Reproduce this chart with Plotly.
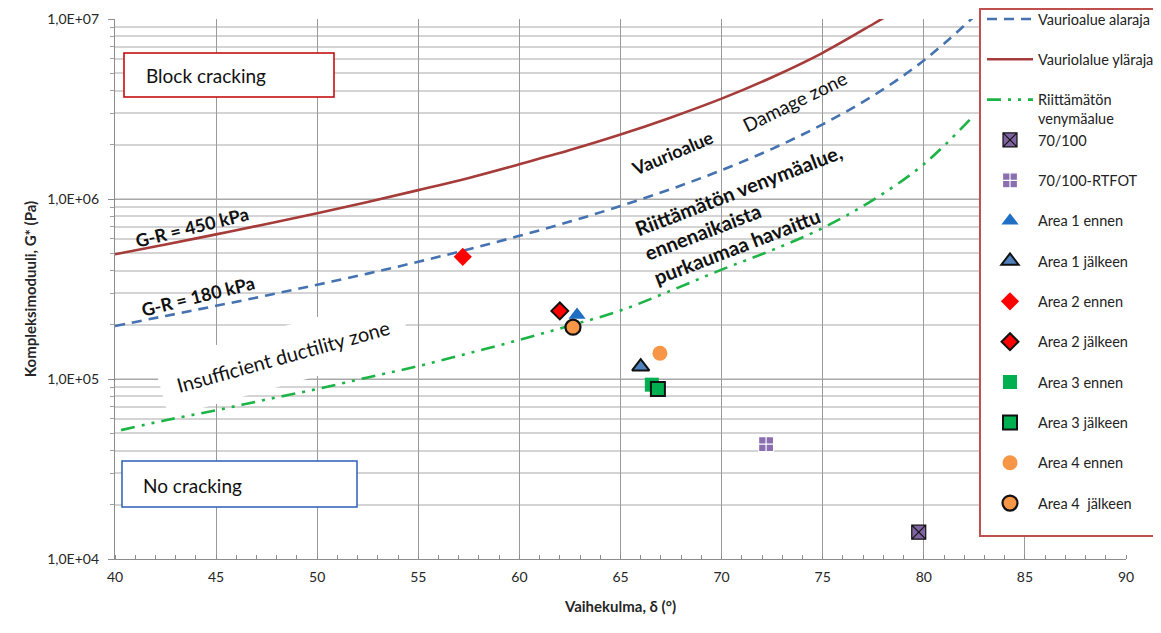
import plotly.graph_objects as go

# ---------------- data ----------------
# boundary curves (phase angle in degrees, complex modulus in Pa)
curve_delta = [40, 42.5, 45, 47.5, 50, 52.5, 55, 57.5, 60, 62.5, 65, 67.5, 70, 72.5, 75, 77.5, 78.3]
upper_g = [493e3, 559e3, 636e3, 727e3, 834e3, 963e3, 1.12e6, 1.31e6, 1.56e6, 1.87e6,
           2.28e6, 2.84e6, 3.61e6, 4.75e6, 6.49e6, 9.38e6, 10.6e6]

lower_delta = [40, 42.5, 45, 47.5, 50, 52.5, 55, 57.5, 60, 62.5, 65, 67.5, 70, 72.5, 75, 77.5, 80, 82.6]
lower_g = [197e3, 224e3, 255e3, 291e3, 334e3, 385e3, 448e3, 526e3, 624e3, 749e3,
           914e3, 1.136e6, 1.446e6, 1.90e6, 2.60e6, 3.75e6, 5.88e6, 10.6e6]

duct_delta = [40.3, 42.5, 45, 47.5, 50, 52.5, 55, 57.5, 60, 62.5, 65, 67.5, 70, 72.5, 75, 77.5, 80, 82.4]
duct_g = [52e3, 59e3, 67e3, 77e3, 88e3, 102e3, 118e3, 139e3, 165e3, 198e3,
          240e3, 310e3, 405e3, 520e3, 690e3, 990e3, 1.56e6, 2.85e6]

# measured points
sample_names = ["70/100", "70/100-RTFOT", "Area 1 ennen", "Area 1 jälkeen",
                "Area 2 ennen", "Area 2 jälkeen", "Area 3 ennen", "Area 3 jälkeen",
                "Area 4 ennen", "Area 4  jälkeen"]
sample_delta = [79.75, 72.2, 62.85, 66.0, 57.2, 62.0, 66.55, 66.85, 66.95, 62.65]
sample_g = [14.1e3, 43.5e3, 227e3, 117e3, 477e3, 239e3, 93e3, 88e3, 139e3, 194e3]

x_ticks = [40, 45, 50, 55, 60, 65, 70, 75, 80, 85, 90]
y_tickvals = [1e4, 1e5, 1e6, 1e7]
y_ticktext = ["1,0E+04", "1,0E+05", "1,0E+06", "1,0E+07"]

# ---------------- styles ----------------
sample_styles = [
    dict(symbol="square-x", size=14, color="#8064a2", line=dict(color="#111111", width=1.2)),
    dict(symbol="square-cross", size=15, color="#8a6fb0", line=dict(color="#ffffff", width=1.2)),
    dict(symbol="triangle-up", size=15, color="#1f70c4", line=dict(color="#1f70c4", width=0)),
    dict(symbol="triangle-up", size=15, color="#4f81bd", line=dict(color="#111111", width=2)),
    dict(symbol="diamond", size=14, color="#ff0000", line=dict(color="#ff0000", width=0)),
    dict(symbol="diamond", size=13, color="#ff0000", line=dict(color="#111111", width=2)),
    dict(symbol="square", size=14, color="#00b050", line=dict(color="#00b050", width=0)),
    dict(symbol="square", size=14, color="#00b050", line=dict(color="#111111", width=2)),
    dict(symbol="circle", size=15, color="#f79646", line=dict(color="#f79646", width=0)),
    dict(symbol="circle", size=15, color="#f79646", line=dict(color="#111111", width=2.2)),
]

FONT = "Lato"

fig = go.Figure()

fig.add_trace(go.Scatter(x=lower_delta, y=lower_g, mode="lines", name="Vaurioalue alaraja",
                         line=dict(color="#4572b0", width=2.6, dash="10px,7px", shape="spline"),
                         legendgroup="a", legend="legend"))
fig.add_trace(go.Scatter(x=curve_delta, y=upper_g, mode="lines", name="Vauriolalue yläraja",
                         line=dict(color="#a53c3a", width=2.6, shape="spline"),
                         legendgroup="b", legend="legend"))
fig.add_trace(go.Scatter(x=duct_delta, y=duct_g, mode="lines", name="Riittämätön<br>venymäalue",
                         line=dict(color="#1db446", width=2.6, dash="14px,7px,3px,7px,3px,7px",
                                   shape="spline"), legendgroup="c", legend="legend"))

for i, (nm, dx, gy, st) in enumerate(zip(sample_names, sample_delta, sample_g, sample_styles)):
    fig.add_trace(go.Scatter(x=[dx], y=[gy], mode="markers", name=nm,
                             marker=dict(symbol=st["symbol"], size=st["size"], color=st["color"],
                                         line=st["line"]),
                             legendgroup="m%d" % i, legend="legend2"))

# ---------------- annotations (positions in paper units of the plot area) ----------------
def px_x(px):
    return (px - 115) / 1011.0

def px_y(py):
    return (559 - py) / 540.0

shapes = [
    dict(type="rect", xref="paper", yref="paper", x0=px_x(124), x1=px_x(334), y0=px_y(97), y1=px_y(53),
         line=dict(color="#c00000", width=1.5), fillcolor="white", layer="above"),
    dict(type="rect", xref="paper", yref="paper", x0=px_x(122), x1=px_x(357), y0=px_y(507), y1=px_y(461),
         line=dict(color="#2e5fb5", width=1.5), fillcolor="white", layer="above"),
    # legend frame
    dict(type="rect", xref="paper", yref="paper", x0=px_x(980), x1=px_x(1175), y0=px_y(536), y1=px_y(9),
         line=dict(color="#c0504d", width=2), fillcolor="white", layer="above"),
]

annotations = [
    dict(text="Block cracking", x=px_x(144), y=px_y(75), xanchor="left", yanchor="middle",
         font=dict(size=19, color="#111111", family=FONT)),
    dict(text="No cracking", x=px_x(141), y=px_y(485), xanchor="left", yanchor="middle",
         font=dict(size=19, color="#111111", family=FONT)),
    dict(text="<b>G-R = 450 kPa</b>", x=px_x(192), y=px_y(227), textangle=-14,
         font=dict(size=18, color="#111111", family=FONT)),
    dict(text="<b>G-R = 180 kPa</b>", x=px_x(198), y=px_y(296), textangle=-14,
         font=dict(size=18, color="#111111", family=FONT)),
    dict(text="Insufficient ductility zone", x=px_x(283), y=px_y(356), textangle=-15.5,
         bgcolor="white", borderpad=16,
         font=dict(size=20, color="#111111", family=FONT)),
    dict(text="<b>Vaurioalue</b>", x=px_x(672), y=px_y(153), textangle=-23,
         font=dict(size=18, color="#111111", family=FONT)),
    dict(text="Damage zone", x=px_x(794), y=px_y(101), textangle=-26,
         font=dict(size=19, color="#111111", family=FONT)),
    dict(text="<b>Riittämätön venymäalue,<br>ennenaikaista<br>purkaumaa havaittu</b>",
         x=px_x(748), y=px_y(214), textangle=-21, align="left",
         font=dict(size=20, color="#111111", family=FONT)),
]
for a in annotations:
    a.update(xref="paper", yref="paper", showarrow=False)
    a.setdefault("xanchor", "center")
    a.setdefault("yanchor", "middle")

legend_common = dict(xanchor="left", yanchor="top", bgcolor="rgba(0,0,0,0)", borderwidth=0,
                     font=dict(size=14.5, color="#222222", family=FONT),
                     tracegroupgap=18.5, itemwidth=46, valign="top", maxheight=640)

fig.update_layout(
    width=1153, height=625,
    margin=dict(l=107, r=35, t=11, b=74, autoexpand=False),
    paper_bgcolor="white", plot_bgcolor="white",
    font=dict(family=FONT, color="#262626"),
    showlegend=True,
    legend=dict(x=px_x(982), y=px_y(3), **legend_common),
    legend2=dict(x=px_x(982), y=px_y(124), **legend_common),
    shapes=shapes,
    annotations=annotations,
    xaxis=dict(range=[40, 90], tickvals=x_ticks, showgrid=True, gridcolor="#9a9a9a", gridwidth=1.2,
               showline=True, linecolor="#8c8c8c", linewidth=1.3, zeroline=False,
               ticks="", ticklabelstandoff=5, tickfont=dict(size=14, color="#262626", family=FONT),
               minor=dict(dtick=1, ticks="inside", ticklen=4, tickcolor="#8c8c8c", showgrid=False),
               title=dict(text="<b>Vaihekulma, δ (°)</b>", font=dict(size=15, color="#262626"),
                          standoff=17)),
    yaxis=dict(type="log", range=[4, 7], tickvals=y_tickvals, ticktext=y_ticktext,
               showgrid=True, gridcolor="#a8a8a8", gridwidth=1.3,
               showline=True, linecolor="#8c8c8c", linewidth=1.3, zeroline=False,
               ticks="outside", ticklen=6, tickcolor="#8c8c8c", ticklabelstandoff=6,
               tickfont=dict(size=14, color="#262626", family=FONT),
               minor=dict(dtick="D1", showgrid=True, gridcolor="#d4d4d4", gridwidth=1.6,
                          ticks="outside", ticklen=4, tickcolor="#a0a0a0"),
               title=dict(text="<b>Kompleksimoduuli, G* (Pa)</b>", font=dict(size=15, color="#262626"),
                          standoff=6)),
)

fig.write_html("out.html")
